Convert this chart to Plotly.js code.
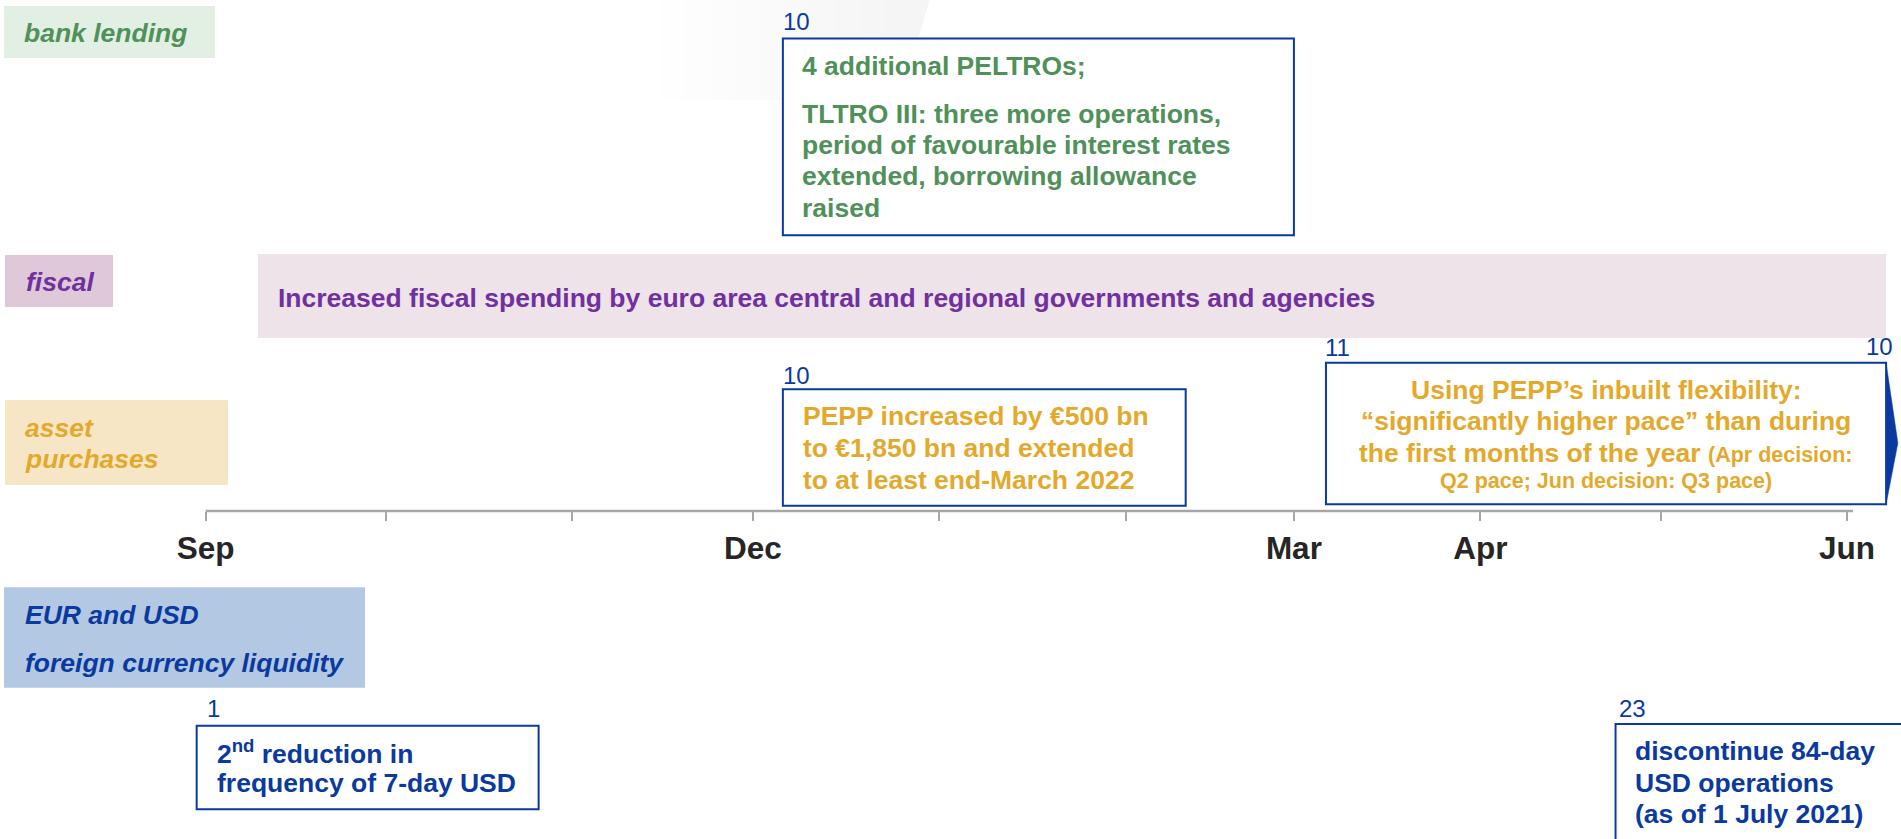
<!DOCTYPE html>
<html>
<head>
<meta charset="utf-8">
<script src="https://cdn.plot.ly/plotly-3.0.1.min.js"></script>
<style>
  html, body { margin: 0; padding: 0; background: #ffffff; overflow: hidden; }
  #chart { width: 1901px; height: 839px; }
</style>
</head>
<body>
<div id="chart"></div>
<script>
// ================= DATA =================
const monthTicks  = ['2020-09-01','2020-10-01','2020-11-01','2020-12-01','2021-01-01',
                     '2021-02-01','2021-03-01','2021-04-01','2021-05-01','2021-06-01'];
const monthLabels = ['Sep','','','Dec','','','Mar','Apr','','Jun'];

// lane labels
const bankLabel   = ['bank lending'];
const fiscalLabel = ['fiscal'];
const assetLabel  = ['asset', 'purchases'];
const fxLabel     = ['EUR and USD', 'foreign currency liquidity'];

// fiscal bar (period)
const fiscalStart = '2020-09-09 17:00';
const fiscalEnd   = '2021-06-07 12:00';
const fiscalText  = ['Increased fiscal spending by euro area central and regional governments and agencies'];

// events: PELTRO/TLTRO, PEPP increase, PEPP pace, USD 7-day, USD 84-day
const eventDay   = ['10', '10', '11', '1', '23'];
const eventStart = ['2020-12-06', '2020-12-06', '2021-03-06 08:00', '2020-08-30 12:00', '2021-04-23 12:00'];
const eventEnd   = ['2021-03-01', '2021-02-11', '2021-06-07 12:00', '2020-10-26 09:00', '2021-07-20'];
const paceEndDay = '10';
const paceArrowTip = '2021-06-09 11:00';
const axisEnd = '2021-06-02';

const peltroText = ['4 additional PELTROs;', 'TLTRO III: three more operations,',
                    'period of favourable interest rates', 'extended, borrowing allowance', 'raised'];
const peppText   = ['PEPP increased by €500 bn', 'to €1,850 bn and extended', 'to at least end-March 2022'];
const paceText   = ['Using PEPP’s inbuilt flexibility:', '“significantly higher pace” than during',
                    'the first months of the year'];
const paceNote   = ['(Apr decision:', 'Q2 pace; Jun decision: Q3 pace)'];
const usdText    = ['2<sup>nd</sup> reduction in', 'frequency of 7-day USD'];
const discText   = ['discontinue 84-day', 'USD operations', '(as of 1 July 2021)'];

// ================= STYLE / LAYOUT CONFIG =================
const FONT = '"Liberation Sans", Arial, Helvetica, sans-serif';
const FS = 26.5, FS_NOTE = 21.5, FS_DAY = 24, FS_TICK = 31.5;
const C = {
  green: '#4f9159', purple: '#7030a0', gold: '#e4a92b', blue: '#0a39a0',
  bankBg: '#e2efe3', fiscalBg: '#dfc9d8', assetBg: '#f7e6c5', fxBg: '#b3c8e3',
  fiscalBar: '#ede3e9', axis: '#a6a6a6', tick: '#262626'
};
const H = 839, AXIS_Y = 511;

const laneBoxes = [   // [x0,x1 px from left] [y0,y1]
  {x: [4, 215],  y: [6, 58],        fill: C.bankBg},
  {x: [5, 113],  y: [255, 307],     fill: C.fiscalBg},
  {x: [5, 228],  y: [400, 485],     fill: C.assetBg},
  {x: [4, 365],  y: [587.3, 687.7], fill: C.fxBg}
];
const laneText = [
  {lines: bankLabel,   ys: [32.5],         pad: 24, color: C.green},
  {lines: fiscalLabel, ys: [281.5],        pad: 26, color: C.purple},
  {lines: assetLabel,  ys: [427.5, 459.1], pad: 25, color: C.gold},
  {lines: fxLabel,     ys: [614.8, 662.5], pad: 25, color: C.blue}
];
const eventBoxY = [[38.5, 235.3], [389.3, 505.7], [362.7, 504.3], [725.7, 809.3], [724, 880]];
const dayLabelY = [21, 375, 347.7, 708.4, 708.4];
const dayLabelShift = [0, 0, -1, 10.5, 3.8];
const fiscalBarY = [254, 338];
const PAD = 19.5;

// ================= HELPERS =================
function toMs(s) {
  const parts = s.split(' ');
  return Date.parse(parts[0] + 'T' + (parts[1] || '00:00') + ':00Z');
}
function txt(text, x, y, color, extra) {
  return Object.assign({
    text: text, x: x, y: y, xref: 'x', yref: 'y',
    xanchor: 'left', yanchor: 'middle', align: 'left',
    showarrow: false, borderpad: 0, borderwidth: 0,
    font: {family: FONT, size: FS, color: color}
  }, extra || {});
}
const B = s => '<b>' + s + '</b>';
const BI = s => '<b><i>' + s + '</i></b>';

// ================= BUILD =================
const shapes = [];
const annotations = [];

// faint decorative swoosh at the top (slide background artefact), layered for a soft gradient
for (let k = 0; k < 10; k++) {
  const x0 = 660 + k * 25;
  shapes.push({
    type: 'path', xref: 'paper', yref: 'y', layer: 'below',
    path: `M ${x0/1901},0 L ${930/1901},0 L ${901/1901},100 L ${x0/1901},100 Z`,
    fillcolor: 'rgba(0,0,0,0.0045)', line: {width: 0}
  });
}

// lane label boxes + texts
laneBoxes.forEach(b => {
  shapes.push({
    type: 'rect', xref: 'paper', yref: 'y', xsizemode: 'pixel', xanchor: 0,
    x0: b.x[0], x1: b.x[1], y0: b.y[0], y1: b.y[1],
    fillcolor: b.fill, line: {width: 0}, layer: 'below'
  });
});
laneText.forEach(l => {
  l.lines.forEach((t, i) => {
    annotations.push(txt(BI(t), 0, l.ys[i], l.color, {xref: 'paper', xshift: l.pad}));
  });
});

// fiscal bar
shapes.push({
  type: 'rect', xref: 'x', yref: 'y', x0: fiscalStart, x1: fiscalEnd,
  y0: fiscalBarY[0], y1: fiscalBarY[1], fillcolor: C.fiscalBar, line: {width: 0}, layer: 'below'
});
annotations.push(txt(B(fiscalText[0]), fiscalStart, 297.5, C.purple, {xshift: PAD + 0.5}));

// timeline axis line
shapes.push({
  type: 'line', xref: 'x', yref: 'y', x0: monthTicks[0], x1: axisEnd,
  y0: AXIS_Y, y1: AXIS_Y, line: {color: C.axis, width: 2.5}
});

// event boxes
eventStart.forEach((s, i) => {
  shapes.push({
    type: 'rect', xref: 'x', yref: 'y', x0: s, x1: eventEnd[i],
    y0: eventBoxY[i][0], y1: eventBoxY[i][1],
    fillcolor: '#ffffff', line: {color: C.blue, width: 2}
  });
  annotations.push(txt(eventDay[i], s, dayLabelY[i], C.blue,
    {font: {family: FONT, size: FS_DAY, color: C.blue}, xshift: dayLabelShift[i]}));
});
annotations.push(txt(paceEndDay, eventEnd[2], 346.7, C.blue,
  {font: {family: FONT, size: FS_DAY, color: C.blue}, xanchor: 'right', xshift: 7}));

// PELTRO / TLTRO text
[65.8, 113.5, 145.1, 175.8, 207.5].forEach((y, i) => {
  annotations.push(txt(B(peltroText[i]), eventStart[0], y, C.green, {xshift: PAD}));
});
// PEPP increase text
[415.8, 448.1, 480.1].forEach((y, i) => {
  annotations.push(txt(B(peppText[i]), eventStart[1], y, C.gold, {xshift: PAD + 1}));
});
// PEPP pace text (centred)
const paceMid = (toMs(eventStart[2]) + toMs(eventEnd[2])) / 2;
const small = s => `<span style="font-size:${FS_NOTE}px">${s}</span>`;
const paceLines = [B(paceText[0]), B(paceText[1]), B(paceText[2] + ' ' + small(paceNote[0])), B(small(paceNote[1]))];
[390.1, 420.8, 452.5, 480.9].forEach((y, i) => {
  annotations.push(txt(paceLines[i], paceMid, y, C.gold, {xanchor: 'center', align: 'center'}));
});
// USD texts
[751.5, 783.3].forEach((y, i) => {
  annotations.push(txt(B(usdText[i]), eventStart[3], y, C.blue, {xshift: PAD + 0.5}));
});
[750.8, 782.5, 814.1].forEach((y, i) => {
  annotations.push(txt(B(discText[i]), eventStart[4], y, C.blue, {xshift: PAD}));
});

// arrow wedge on the right of the pace box
const traces = [{
  type: 'scatter', mode: 'lines', hoverinfo: 'skip', showlegend: false,
  x: [eventEnd[2], paceArrowTip, eventEnd[2]],
  y: [eventBoxY[2][0], 443, eventBoxY[2][1]],
  fill: 'toself', fillcolor: C.blue, line: {width: 0.5, color: C.blue}
}];

// labelled months -> major ticks; the rest -> minor ticks (no empty labels)
const majorVals = monthTicks.filter((d, i) => monthLabels[i] !== '');
const majorText = monthLabels.filter(s => s !== '').map(B);
const minorVals = monthTicks.filter((d, i) => monthLabels[i] === '');

const layout = {
  width: 1901, height: H,
  margin: {l: 0, r: 0, t: 0, b: 0, pad: 0},
  paper_bgcolor: '#ffffff', plot_bgcolor: 'rgba(0,0,0,0)',
  showlegend: false,
  xaxis: {
    type: 'date', range: ['2020-07-28 18:51', '2021-06-09 23:31'],
    anchor: 'free', position: 1 - AXIS_Y / H,
    tickmode: 'array', tickvals: majorVals, ticktext: majorText,
    ticks: 'outside', ticklen: 9, tickwidth: 2, tickcolor: C.axis,
    tickfont: {family: FONT, size: FS_TICK, color: C.tick},
    ticklabelstandoff: 0,
    minor: {tickmode: 'array', tickvals: minorVals, ticks: 'outside', ticklen: 9,
            tickwidth: 2, tickcolor: C.axis, showgrid: false},
    showgrid: false, zeroline: false, showline: false, automargin: false, fixedrange: true
  },
  yaxis: {range: [H, 0], visible: false, showgrid: false, zeroline: false, fixedrange: true},
  shapes: shapes,
  annotations: annotations
};

Plotly.newPlot('chart', traces, layout, {staticPlot: true, displayModeBar: false});
</script>
</body>
</html>
